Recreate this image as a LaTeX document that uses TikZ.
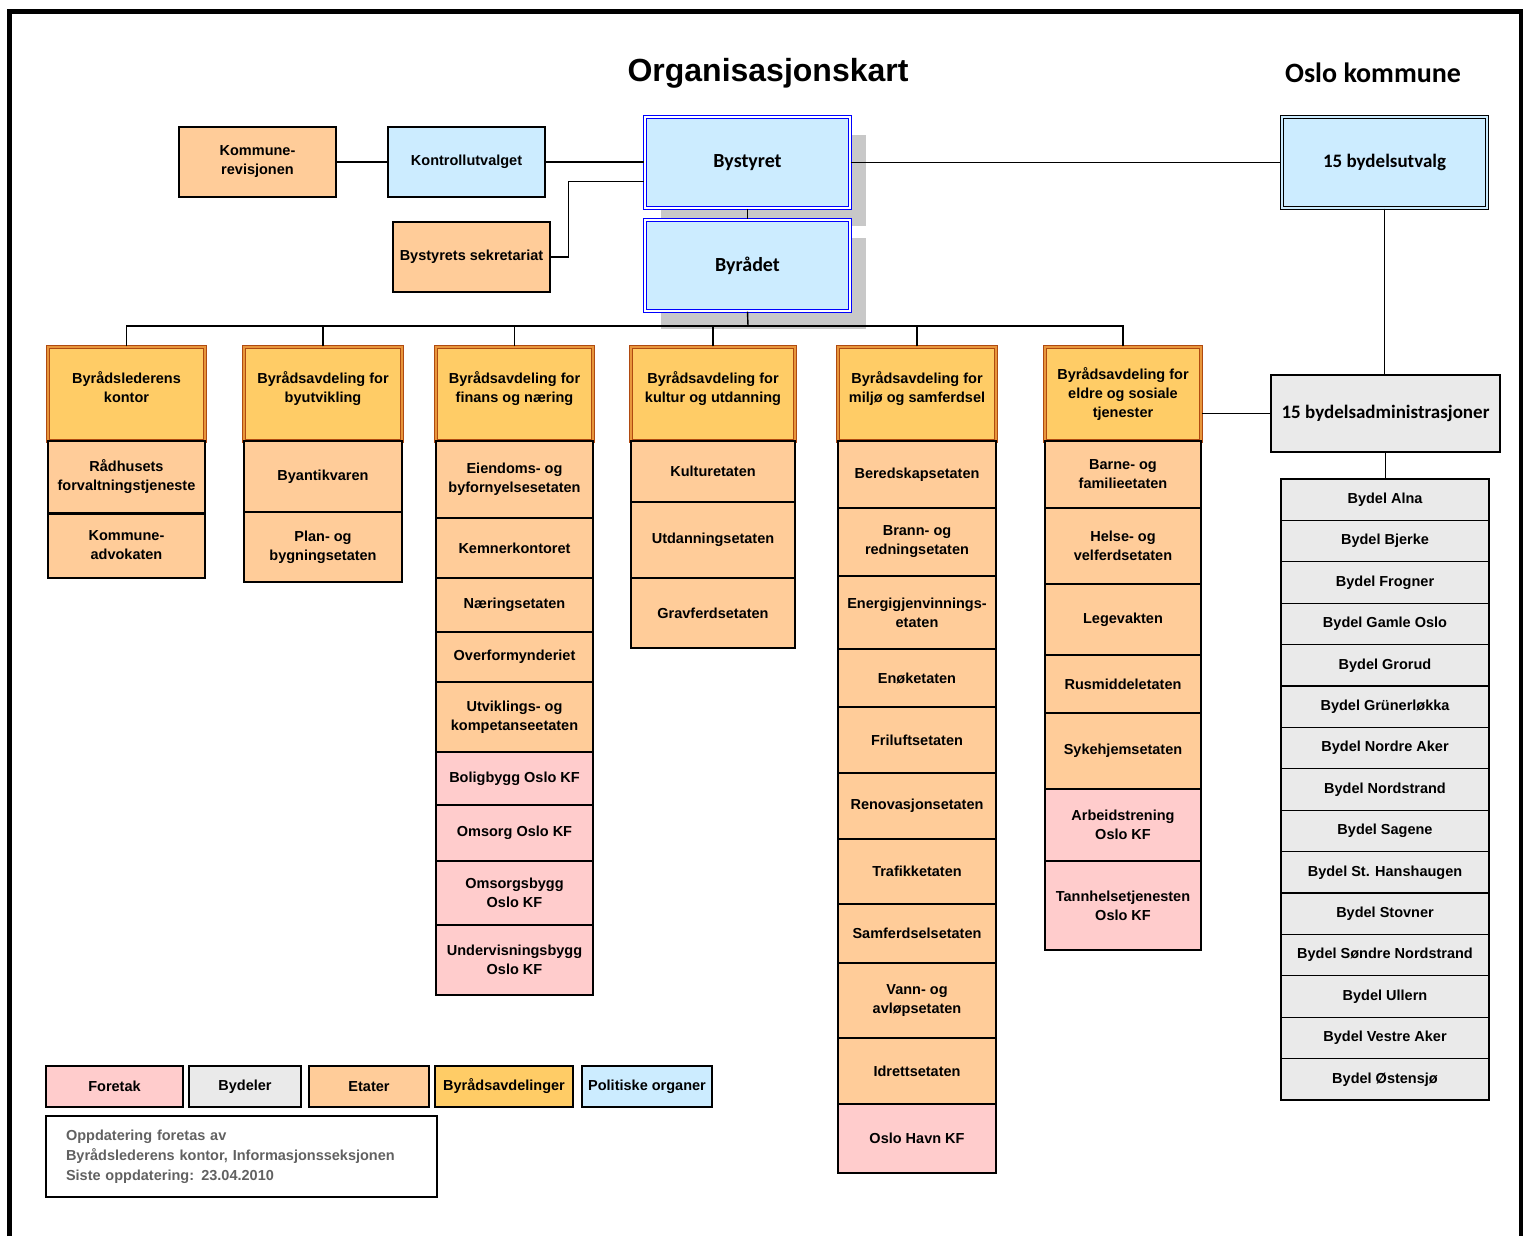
\documentclass[tikz,border=0pt]{standalone}
\usepackage{fontspec}
\setmainfont{Liberation Sans}
\newfontfamily\carlito{Carlito}
\usepackage{tikz}
\usetikzlibrary{calc,shadows}
\definecolor{etatfarge}{HTML}{FFCC99}
\definecolor{foretakfarge}{HTML}{FFCCCC}
\definecolor{bydelfarge}{HTML}{EAEAEA}
\definecolor{avdfarge}{HTML}{FFCC66}
\definecolor{avdkant}{HTML}{B04A10}
\definecolor{avdinner}{HTML}{E8963C}
\definecolor{polfarge}{HTML}{CCECFF}
\definecolor{skygge}{HTML}{C8C8C8}
\tikzset{
	boks/.style={draw, line width=1.3pt, align=center, inner sep=2pt, font=\bfseries\fontsize{14.5}{19}\selectfont},
	etat/.style={boks, fill=etatfarge},
	foretak/.style={boks, fill=foretakfarge},
	bydel/.style={boks, fill=bydelfarge},
	avdfelt/.style={boks, fill=avdfarge},
	avd/.style={avdfelt, draw=avdkant, double=avdinner, double distance=1.5pt, line width=1.1pt},
	avdto/.style={avd, text depth=13pt},
	politisk/.style={boks, fill=polfarge},
	organ/.style={politisk, draw=blue, double=white, double distance=1.6pt, line width=1.1pt, font=\carlito\bfseries\fontsize{20}{24}\selectfont, drop shadow={shadow xshift=16pt, shadow yshift=-18pt, fill=skygge, opacity=1}},
	utvalg/.style={politisk, draw=black, double=polfarge, double distance=1.5pt, line width=1.2pt, font=\carlito\bfseries\fontsize{19}{23}\selectfont},
	notat/.style={draw, line width=1.3pt, align=left, inner xsep=20pt, text width=351pt, text=black!62, font=\bfseries\fontsize{14.5}{20}\selectfont},
	linje/.style={line width=1.4pt},
	ramme/.style={line width=4.5pt},
}
% box spanning (x1,y1) to (x2,y2), in picture pixels
\def\boks[#1](#2)(#3,#4)(#5,#6)#7{\node[#1, minimum width={#5-#3}, minimum height={#6-#4}] (#2) at ({(#3+#5)/2},{(#4+#6)/2}) {#7};}

\begin{document}
\begin{tikzpicture}[x=1pt, y=-1pt]
			%%%%% START %%%%%
			\useasboundingbox (0,0) rectangle (1530,1236);
			\draw[ramme] (9.7,1236) -- (9.7,11.3) -- (1521,11.3) -- (1521,1236);
			
			\node[font=\bfseries\fontsize{32}{36}\selectfont] (tittel) at (768,73) {Organisasjonskart};
			\node[font=\carlito\bfseries\fontsize{28}{32}\selectfont] (oslo) at (1373,73) {Oslo kommune};
			
			\boks[etat](rev)(179,127)(336,197){Kommune-\\revisjonen}
			\boks[politisk](kontroll)(388,127)(545,197){Kontrollutvalget}
			\boks[organ](bys)(645,117)(850,208){Bystyret}
			\boks[organ](byr)(645,220)(850,311){Byrådet}
			\boks[etat](sek)(393,222)(550,292){Bystyrets sekretariat}
			\boks[utvalg](utv)(1282,117)(1487,208){15 bydelsutvalg}
			\boks[bydel, font=\carlito\bfseries\fontsize{19}{23}\selectfont](adm)(1271,375)(1500,452){15 bydelsadministrasjoner}
			
			\boks[avdto](h1)(48,347)(205,441){Byrådslederens\\kontor}
			\boks[etat](c1a)(48,441)(205,513){Rådhusets\\forvaltningstjeneste}
			\boks[etat](c1b)(48,513)(205,578){Kommune-\\advokaten}
			\draw[line width=3pt] (c1a.south west) -- (c1a.south east);
			
			\boks[avdto](h2)(244,347)(402,441){Byrådsavdeling for\\byutvikling}
			\boks[etat](c2a)(244,441)(402,512){Byantikvaren}
			\boks[etat](c2b)(244,512)(402,582){Plan- og\\bygningsetaten}
			
			\boks[avdto](h3)(436,347)(593,441){Byrådsavdeling for\\finans og næring}
			\boks[etat](c3a)(436,441)(593,518){Eiendoms- og\\byfornyelsesetaten}
			\boks[etat](c3b)(436,518)(593,578){Kemnerkontoret}
			\boks[etat](c3c)(436,578)(593,632){Næringsetaten}
			\boks[etat](c3d)(436,632)(593,682){Overformynderiet}
			\boks[etat](c3e)(436,682)(593,752){Utviklings- og\\kompetanseetaten}
			\boks[foretak](c3f)(436,752)(593,805){Boligbygg Oslo KF}
			\boks[foretak](c3g)(436,805)(593,861){Omsorg Oslo KF}
			\boks[foretak](c3h)(436,861)(593,925){Omsorgsbygg\\Oslo KF}
			\boks[foretak](c3i)(436,925)(593,995){Undervisningsbygg\\Oslo KF}
			
			\boks[avdto](h4)(631,347)(795,441){Byrådsavdeling for\\kultur og utdanning}
			\boks[etat](c4a)(631,441)(795,502){Kulturetaten}
			\boks[etat](c4b)(631,502)(795,578){Utdanningsetaten}
			\boks[etat](c4c)(631,578)(795,648){Gravferdsetaten}
			
			\boks[avdto](h5)(838,347)(996,441){Byrådsavdeling for\\miljø og samferdsel}
			\boks[etat](c5a)(838,441)(996,508){Beredskapsetaten}
			\boks[etat](c5b)(838,508)(996,576){Brann- og\\redningsetaten}
			\boks[etat](c5c)(838,576)(996,649){Energigjenvinnings-\\etaten}
			\boks[etat](c5d)(838,649)(996,707){Enøketaten}
			\boks[etat](c5e)(838,707)(996,773){Friluftsetaten}
			\boks[etat](c5f)(838,773)(996,839){Renovasjonsetaten}
			\boks[etat](c5g)(838,839)(996,904){Trafikketaten}
			\boks[etat](c5h)(838,904)(996,963){Samferdselsetaten}
			\boks[etat](c5i)(838,963)(996,1038){Vann- og\\avløpsetaten}
			\boks[etat](c5j)(838,1038)(996,1104){Idrettsetaten}
			\boks[foretak](c5k)(838,1104)(996,1173){Oslo Havn KF}
			
			\boks[avd](h6)(1045,347)(1201,441){Byrådsavdeling for\\eldre og sosiale\\tjenester}
			\boks[etat](c6a)(1045,441)(1201,508){Barne- og\\familieetaten}
			\boks[etat](c6b)(1045,508)(1201,584){Helse- og\\velferdsetaten}
			\boks[etat](c6c)(1045,584)(1201,655){Legevakten}
			\boks[etat](c6d)(1045,655)(1201,713){Rusmiddeletaten}
			\boks[etat](c6e)(1045,713)(1201,789){Sykehjemsetaten}
			\boks[foretak](c6f)(1045,789)(1201,861){Arbeidstrening\\Oslo KF}
			\boks[foretak](c6g)(1045,861)(1201,950){Tannhelsetjenesten\\Oslo KF}
			
			\boks[bydel](b1)(1281,479)(1489,520.4){Bydel Alna}
			\boks[bydel](b2)(1281,520.4)(1489,561.8){Bydel Bjerke}
			\boks[bydel](b3)(1281,561.8)(1489,603.2){Bydel Frogner}
			\boks[bydel](b4)(1281,603.2)(1489,644.6){Bydel Gamle Oslo}
			\boks[bydel](b5)(1281,644.6)(1489,686){Bydel Grorud}
			\boks[bydel](b6)(1281,686)(1489,727.4){Bydel Grünerløkka}
			\boks[bydel](b7)(1281,727.4)(1489,768.8){Bydel Nordre Aker}
			\boks[bydel](b8)(1281,768.8)(1489,810.2){Bydel Nordstrand}
			\boks[bydel](b9)(1281,810.2)(1489,851.6){Bydel Sagene}
			\boks[bydel](b10)(1281,851.6)(1489,893){Bydel St. Hanshaugen}
			\boks[bydel](b11)(1281,893)(1489,934.4){Bydel Stovner}
			\boks[bydel](b12)(1281,934.4)(1489,975.8){Bydel Søndre Nordstrand}
			\boks[bydel](b13)(1281,975.8)(1489,1017.2){Bydel Ullern}
			\boks[bydel](b14)(1281,1017.2)(1489,1058.6){Bydel Vestre Aker}
			\boks[bydel](b15)(1281,1058.6)(1489,1100){Bydel Østensjø}
			
			\draw[linje] (rev) -- (kontroll);
			\draw[linje] (kontroll.east) -- (kontroll.east -| bys.west);
			\draw[linje] (bys.east) -- (utv.west);
			\draw[linje] (sek.east) -- ++(18,0) |- ([yshift=-19pt]bys.west);
			\draw[linje] (bys) -- (byr);
			\coordinate (buss) at (748,326);
			\draw[linje] (byr.south) -- (buss);
			\draw[linje] (h1.north) |- (buss);
			\draw[linje] (h2.north) |- (buss);
			\draw[linje] (h3.north) |- (buss);
			\draw[linje] (h4.north) |- (buss);
			\draw[linje] (h5.north) |- (buss);
			\draw[linje] (h6.north) |- (buss);
			\draw[linje] (utv.south) -- (utv.south |- adm.north);
			\draw[linje] (adm.west) -- (adm.west -| h6.east);
			\draw[linje] (adm.south) -- (adm.south |- b1.north);
			
			\boks[foretak](l1)(46,1066)(183,1107){Foretak}
			\boks[bydel](l2)(189,1066)(301,1107){Bydeler}
			\boks[etat](l3)(309,1066)(429,1107){Etater}
			\boks[avdfelt](l4)(435,1066)(573,1107){Byrådsavdelinger}
			\boks[politisk](l5)(582,1066)(712,1107){Politiske organer}
			\boks[notat](note)(46,1116)(437,1197){Oppdatering foretas av\\Byrådslederens kontor, Informasjonsseksjonen\\Siste oppdatering: 23.04.2010}
			%%%%% END %%%%%
\end{tikzpicture}
\end{document}
